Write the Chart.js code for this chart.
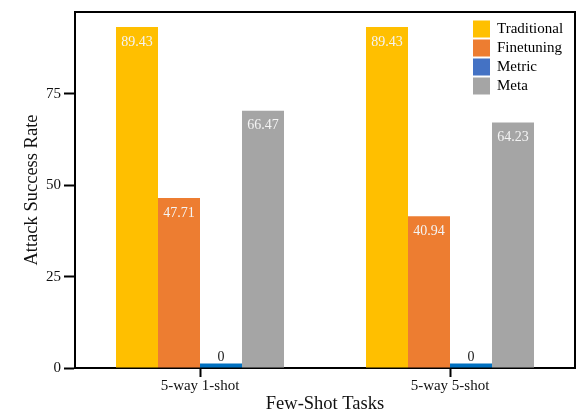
<!DOCTYPE html>
<html>
<head>
<meta charset="utf-8">
<script src="https://cdn.jsdelivr.net/npm/chart.js@4.4.1/dist/chart.umd.min.js"></script>
<style>
  html, body { margin: 0; padding: 0; background: #fff; }
  #wrap { width: 582px; height: 415px; }
</style>
</head>
<body>
<div id="wrap"><canvas id="chart" width="582" height="415"></canvas></div>
<script>
// tasks on the x axis
const tasks = ['5-way 1-shot', '5-way 5-shot'];
const methods = ['Traditional', 'Finetuning', 'Metric', 'Meta'];

// bar heights as drawn in the figure
const traditional = [93.3, 93.3];
const finetuning = [46.5, 41.5];
const metric = [1.2, 1.2];
const meta = [70.4, 67.2];

// numbers printed on the bars
const traditionalText = ['89.43', '89.43'];
const finetuningText = ['47.71', '40.94'];
const metricText = ['0', '0'];
const metaText = ['66.47', '64.23'];

const yTicks = [0, 25, 50, 75];

const serif = "'Liberation Serif', 'Times New Roman', serif";

// print the values on top of each bar
const barText = {
  id: 'barText',
  afterDatasetsDraw(chart) {
    const ctx = chart.ctx;
    ctx.save();
    ctx.font = '14px ' + serif;
    ctx.textAlign = 'center';
    ctx.textBaseline = 'middle';
    chart.data.datasets.forEach((ds, i) => {
      chart.getDatasetMeta(i).data.forEach((bar, j) => {
        const txt = ds.valueText[j];
        const h = bar.base - bar.y;
        if (h < 20) {
          ctx.fillStyle = '#222';
          ctx.fillText(txt, bar.x, bar.y - 6);
        } else {
          ctx.fillStyle = '#f4f4f4';
          ctx.fillText(txt, bar.x, bar.y + 15);
        }
      });
    });
    ctx.restore();
  }
};

// top and right edges of the box + legend in the corner
const boxLegend = {
  id: 'boxLegend',
  afterDraw(chart) {
    const ctx = chart.ctx;
    const a = chart.chartArea;
    ctx.save();
    ctx.strokeStyle = '#000';
    ctx.lineWidth = 2;
    ctx.beginPath();
    ctx.moveTo(a.left, a.top);
    ctx.lineTo(a.right, a.top);
    ctx.lineTo(a.right, a.bottom);
    ctx.stroke();

    ctx.font = '15px ' + serif;
    ctx.textAlign = 'left';
    ctx.textBaseline = 'middle';
    chart.data.datasets.forEach((ds, i) => {
      const y = a.top + 17 + i * 19;
      ctx.fillStyle = ds.legendColor;
      ctx.fillRect(a.right - 102, y - 8.5, 17, 17);
      ctx.fillStyle = '#000';
      ctx.fillText(ds.label, a.right - 78, y);
    });
    ctx.restore();
  }
};

new Chart(document.getElementById('chart'), {
  type: 'bar',
  data: {
    labels: tasks,
    datasets: [
      { label: methods[0], data: traditional, valueText: traditionalText, backgroundColor: '#ffbf00', legendColor: '#ffc000' },
      { label: methods[1], data: finetuning, valueText: finetuningText, backgroundColor: '#ed7d31', legendColor: '#ed7d31' },
      { label: methods[2], data: metric, valueText: metricText, backgroundColor: '#0070c0', legendColor: '#4472c4' },
      { label: methods[3], data: meta, valueText: metaText, backgroundColor: '#a5a5a5', legendColor: '#a5a5a5' }
    ]
  },
  options: {
    responsive: false,
    animation: false,
    layout: { padding: { top: 7, right: 7, left: 0, bottom: 0 } },
    datasets: { bar: { categoryPercentage: 0.672, barPercentage: 1.0, borderWidth: 0 } },
    plugins: { legend: { display: false }, tooltip: { enabled: false } },
    scales: {
      x: {
        offset: true,
        afterFit(s) { s.height = 47; },
        border: { display: true, color: '#000', width: 2 },
        grid: { display: true, drawOnChartArea: false, offset: false, tickLength: 9, tickWidth: 2, tickColor: '#000' },
        ticks: { color: '#111', font: { family: serif, size: 15 }, padding: 0, maxRotation: 0 },
        title: { display: true, text: 'Few-Shot Tasks', color: '#111', font: { family: serif, size: 18.5 }, padding: { top: 0, bottom: 0 } }
      },
      y: {
        min: 0,
        max: 97.4,
        afterFit(s) { s.width = 75; },
        afterBuildTicks(s) { s.ticks = yTicks.map(v => ({ value: v })); },
        border: { display: true, color: '#000', width: 2 },
        grid: { display: true, drawOnChartArea: false, tickLength: 11, tickWidth: 2, tickColor: '#000' },
        ticks: { color: '#111', font: { family: serif, size: 15 }, padding: 3 },
        title: { display: true, text: 'Attack Success Rate', color: '#111', font: { family: serif, size: 18.5 }, padding: { top: 21, bottom: 0 } }
      }
    }
  },
  plugins: [barText, boxLegend]
});
</script>
</body>
</html>
